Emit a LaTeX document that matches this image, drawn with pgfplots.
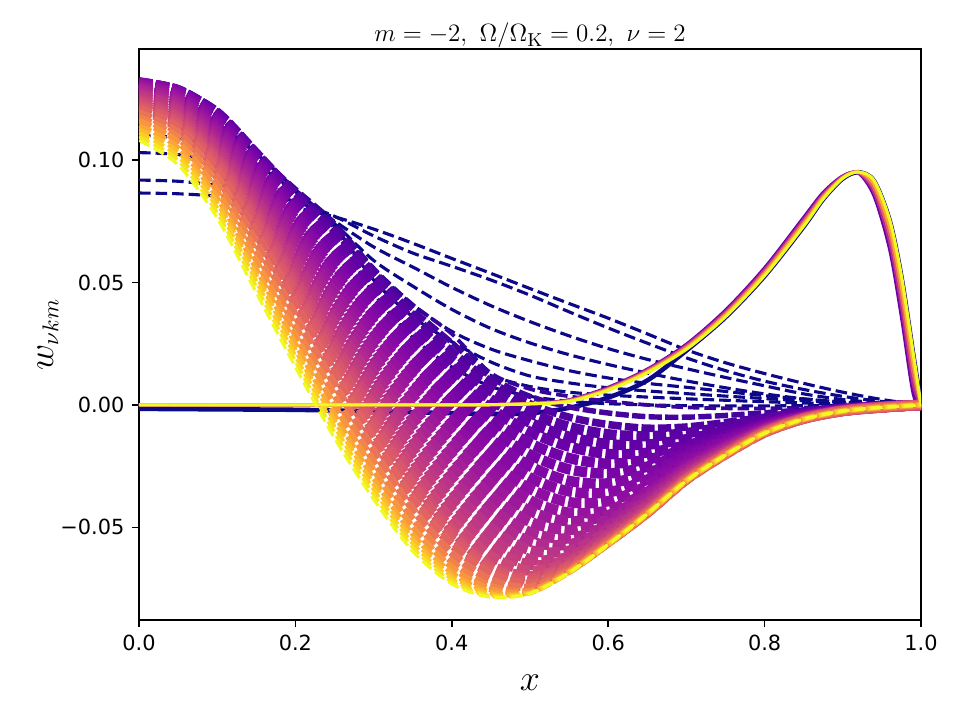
\documentclass[border=0pt]{standalone}
\usepackage[no-math]{fontspec}
\setmainfont{DejaVu Sans}
\usepackage{pgfplots}
\pgfplotsset{compat=1.18}
\definecolor{p0}{RGB}{13,8,135}
\definecolor{p1}{RGB}{65,4,157}
\definecolor{p2}{RGB}{106,0,168}
\definecolor{p3}{RGB}{143,13,164}
\definecolor{p4}{RGB}{177,42,144}
\definecolor{p5}{RGB}{204,71,120}
\definecolor{p6}{RGB}{225,100,98}
\definecolor{p7}{RGB}{242,132,75}
\definecolor{p8}{RGB}{252,166,54}
\definecolor{p9}{RGB}{252,206,37}
\definecolor{p10}{RGB}{240,249,33}
\pgfplotsset{
  dd/.style={smooth, dash pattern=on 5.55pt off 2.4pt, line width=#1},
  dm/.style={smooth, dash pattern=on 6.35pt off 1.6pt, line width=#1},
  ss/.style={smooth, line width=#1},
}
\begin{document}
\begin{tikzpicture}
\begin{axis}[
  scale only axis, width=375.4pt, height=274.1pt,
  xmin=0, xmax=1, ymin=-0.0878, ymax=0.1453,
  xtick={0,0.2,0.4,0.6,0.8,1}, xticklabels={0.0,0.2,0.4,0.6,0.8,1.0},
  ytick={-0.05,0,0.05,0.1}, yticklabels={−0.05,0.00,0.05,0.10},
  tick pos=left, tick align=outside, major tick length=3.5pt,
  every tick/.style={black, line width=0.8pt},
  axis line style={line width=0.8pt},
  ticklabel style={font=\fontsize{10}{12}\selectfont},
  title={$m=-2,\ \Omega/\Omega_{\mathrm{K}}=0.2,\ \nu=2$},
  title style={font=\fontsize{12.5}{15}\selectfont, at={(axis description cs:0.5,1.0123)}, anchor=base, yshift=-6pt},
  xlabel={$x$}, ylabel={$w_{\nu km}$},
  label style={font=\fontsize{16}{19}\selectfont},
  xlabel style={at={(axis description cs:0.5,-0.110)}, anchor=center},
  ylabel style={at={(axis description cs:-0.1164,0.5)}, anchor=center},
]
% fan curves (dark blue, dashed)
\addplot[dd=1.5pt, color=p0] coordinates {(0,.0865)(.05,.0862)(.1,.0852)(.15,.0833)(.2,.0805)(.25,.0768)(.3,.0718)(.35,.0660)(.4,.0598)(.45,.0537)(.5,.0475)(.55,.0414)(.6,.0354)(.65,.0290)(.7,.0225)(.75,.0172)(.8,.0128)(.85,.0088)(.9,.0052)(.95,.0022)(1,0)};
\addplot[dd=1.5pt, color=p0] coordinates {(0,.0918)(.05,.0913)(.1,.0897)(.15,.0870)(.2,.0830)(.25,.0770)(.3,.0690)(.35,.0620)(.4,.0566)(.45,.0510)(.5,.0448)(.55,.0380)(.6,.0314)(.65,.0252)(.7,.0192)(.75,.0140)(.8,.0097)(.85,.0063)(.9,.0035)(.95,.0014)(1,0)};
\addplot[dd=1.5pt, color=p0] coordinates {(0,.1030)(.05,.1022)(.1,.0990)(.15,.0935)(.2,.0855)(.25,.0750)(.3,.0645)(.35,.0563)(.4,.0480)(.45,.0405)(.5,.0340)(.55,.0282)(.6,.0230)(.65,.0186)(.7,.0148)(.75,.0112)(.8,.0078)(.85,.0045)(.9,.0022)(.95,.0008)(1,0)};
\addplot[dd=1.5pt, color=p0] coordinates {(0,.1100)(.05,.1090)(.1,.1050)(.15,.0980)(.2,.0870)(.25,.0740)(.3,.0590)(.35,.0485)(.4,.0390)(.45,.0312)(.5,.0253)(.55,.0205)(.6,.0165)(.65,.0130)(.7,.0098)(.75,.0070)(.8,.0045)(.85,.0025)(.9,.0012)(.95,.0004)(1,0)};
\addplot[dd=1.5pt, color=p0] coordinates {(0,.1180)(.05,.1165)(.1,.1110)(.15,.1000)(.2,.0870)(.25,.0735)(.3,.0555)(.35,.0410)(.4,.0300)(.45,.0228)(.5,.0180)(.55,.0140)(.6,.0110)(.65,.0088)(.7,.0072)(.75,.0055)(.8,.0038)(.85,.0024)(.9,.0012)(.95,.0004)(1,0)};
\addplot[dd=1.5pt, color=p0] coordinates {(0,.1240)(.05,.1220)(.1,.1150)(.15,.1025)(.2,.0880)(.25,.0730)(.3,.0510)(.35,.0360)(.4,.0258)(.45,.0175)(.5,.0118)(.55,.0090)(.6,.0070)(.65,.0057)(.7,.0046)(.75,.0036)(.8,.0026)(.85,.0017)(.9,.0009)(.95,.0003)(1,0)};
\addplot[dd=1.5pt, color=p0] coordinates {(0,.1280)(.05,.1260)(.1,.1180)(.15,.1030)(.2,.0880)(.25,.0720)(.3,.0480)(.35,.0315)(.4,.0200)(.45,.0120)(.5,.0075)(.55,.0052)(.6,.0040)(.65,.0032)(.7,.0025)(.75,.0019)(.8,.0013)(.85,.0008)(.9,.0004)(.95,.0001)(1,0)};
\addplot[dd=1.5pt, color=p0] coordinates {(0,.1300)(.05,.1280)(.1,.1190)(.15,.1030)(.2,.0880)(.25,.0710)(.3,.0455)(.35,.0275)(.4,.0155)(.45,.0075)(.5,.0035)(.55,.0015)(.6,.0005)(.65,.0000)(.7,-.0003)(.75,-.0004)(.8,-.0004)(.85,-.0003)(.9,-.0002)(.95,-.0001)(1,0)};
% solid, s=0
\addplot[ss=2.2pt, color=p0] coordinates {(0,-.0016)(.1,-.0018)(.2,-.0020)(.3,-.0026)(.4,-.0034)(.45,-.0037)(.5,-.0034)(.55,-.0012)(.6,.0030)(.65,.0100)(.7,.0222)(.75,.0358)(.8,.0526)(.85,.0728)(.875,.0840)(.9,.0924)(.92,.0950)(.94,.0914)(.96,.0752)(.975,.0522)(.99,.0208)(1,0)};
% dense dashed family
\addplot[dd=1.8pt, color={p1!80!p0}] coordinates {(0,.1280)(.05,.1265)(.1,.1190)(.15,.1030)(.2,.0885)(.25,.0745)(.3,.0560)(.35,.0410)(.4,.0290)(.45,.0130)(.5,.0065)(.55,.0035)(.6,.0015)(.65,.0000)(.7,-.0010)(.75,-.0014)(.8,-.0014)(.85,-.0011)(.9,-.0007)(.95,-.0003)(1,0)};
\addplot[dm=2.6pt, color={p1!90!p2}] coordinates {(0,.1295)(.05,.1278)(.1,.1193)(.15,.1030)(.2,.0875)(.25,.0728)(.3,.0550)(.35,.0390)(.4,.0255)(.45,.0113)(.5,.0035)(.55,-.0008)(.6,-.0033)(.65,-.0048)(.7,-.0050)(.75,-.0043)(.8,-.0032)(.85,-.0020)(.9,-.0011)(.95,-.0004)(1,0)};
\addplot[dm=3.6pt, color={p1!60!p2}] coordinates {(0,.1310)(.05,.1290)(.1,.1195)(.15,.1030)(.2,.0865)(.25,.0710)(.3,.0540)(.35,.0370)(.4,.0220)(.45,.0095)(.5,.0005)(.55,-.0050)(.6,-.0080)(.65,-.0095)(.7,-.0090)(.75,-.0072)(.8,-.0050)(.85,-.0029)(.9,-.0014)(.95,-.0005)(1,0)};
\addplot[dm=5pt, color={p1!40!p2}] coordinates {(0,.1299)(.05,.1278)(.1,.1192)(.15,.1025)(.2,.0852)(.25,.0687)(.3,.0512)(.35,.0340)(.4,.0187)(.45,.0058)(.5,-.0033)(.55,-.0090)(.6,-.0120)(.65,-.0128)(.7,-.0115)(.75,-.0089)(.8,-.0058)(.85,-.0033)(.9,-.0015)(.95,-.0006)(1,0)};
\addplot[dm=5pt, color={p1!20!p2}] coordinates {(0,.1305)(.05,.1282)(.1,.1188)(.15,.1020)(.2,.0838)(.25,.0663)(.3,.0483)(.35,.0310)(.4,.0153)(.45,.0022)(.5,-.0072)(.55,-.0130)(.6,-.0160)(.65,-.0162)(.7,-.0140)(.75,-.0105)(.8,-.0067)(.85,-.0036)(.9,-.0017)(.95,-.0006)(1,0)};
\addplot[dm=5pt, color=p2] coordinates {(0,.1312)(.05,.1285)(.1,.1185)(.15,.1015)(.2,.0825)(.25,.0640)(.3,.0455)(.35,.0280)(.4,.0120)(.45,-.0015)(.5,-.0110)(.55,-.0170)(.6,-.0200)(.65,-.0195)(.7,-.0165)(.75,-.0122)(.8,-.0075)(.85,-.0040)(.9,-.0018)(.95,-.0007)(1,0)};
\addplot[ss=1.5pt, color=p2] coordinates {(0,0)(.1,0)(.2,0)(.3,0)(.4,0)(.45,.0001)(.5,.0005)(.55,.0021)(.6,.0072)(.65,.0146)(.7,.0248)(.75,.0387)(.8,.0560)(.85,.0766)(.875,.0868)(.9,.0935)(.92,.0946)(.94,.0852)(.96,.0633)(.975,.0358)(.99,.0045)(1,0)};
\addplot[dm=5pt, color={p2!80!p3}] coordinates {(0,.1314)(.05,.1283)(.1,.1177)(.15,.1003)(.2,.0808)(.25,.0617)(.3,.0427)(.35,.0248)(.4,.0083)(.45,-.0057)(.5,-.0157)(.55,-.0217)(.6,-.0240)(.65,-.0223)(.7,-.0180)(.75,-.0130)(.8,-.0078)(.85,-.0041)(.9,-.0019)(.95,-.0007)(1,0)};
\addplot[dm=5pt, color={p2!60!p3}] coordinates {(0,.1315)(.05,.1282)(.1,.1168)(.15,.0992)(.2,.0792)(.25,.0593)(.3,.0398)(.35,.0217)(.4,.0047)(.45,-.0098)(.5,-.0203)(.55,-.0263)(.6,-.0280)(.65,-.0252)(.7,-.0195)(.75,-.0137)(.8,-.0082)(.85,-.0043)(.9,-.0019)(.95,-.0008)(1,0)};
\addplot[dm=5pt, color={p2!40!p3}] coordinates {(0,.1317)(.05,.1280)(.1,.1160)(.15,.0980)(.2,.0775)(.25,.0570)(.3,.0370)(.35,.0185)(.4,.0010)(.45,-.0140)(.5,-.0250)(.55,-.0310)(.6,-.0320)(.65,-.0280)(.7,-.0210)(.75,-.0145)(.8,-.0085)(.85,-.0044)(.9,-.0020)(.95,-.0008)(1,0)};
\addplot[dm=5pt, color={p2!20!p3}] coordinates {(0,.1314)(.05,.1273)(.1,.1148)(.15,.0965)(.2,.0755)(.25,.0543)(.3,.0337)(.35,.0148)(.4,-.0030)(.45,-.0185)(.5,-.0297)(.55,-.0353)(.6,-.0357)(.65,-.0305)(.7,-.0223)(.75,-.0152)(.8,-.0089)(.85,-.0046)(.9,-.0021)(.95,-.0008)(1,0)};
\addplot[dm=5pt, color=p3] coordinates {(0,.1310)(.05,.1267)(.1,.1137)(.15,.0950)(.2,.0735)(.25,.0517)(.3,.0303)(.35,.0112)(.4,-.0070)(.45,-.0230)(.5,-.0343)(.55,-.0397)(.6,-.0393)(.65,-.0330)(.7,-.0237)(.75,-.0160)(.8,-.0092)(.85,-.0047)(.9,-.0021)(.95,-.0009)(1,0)};
\addplot[dm=5pt, color={p3!80!p4}] coordinates {(0,.1307)(.05,.1260)(.1,.1125)(.15,.0935)(.2,.0715)(.25,.0490)(.3,.0270)(.35,.0075)(.4,-.0110)(.45,-.0275)(.5,-.0390)(.55,-.0440)(.6,-.0430)(.65,-.0355)(.7,-.0250)(.75,-.0167)(.8,-.0096)(.85,-.0049)(.9,-.0022)(.95,-.0009)(1,0)};
\addplot[dm=5pt, color={p3!60!p4}] coordinates {(0,.1300)(.05,.1250)(.1,.1110)(.15,.0915)(.2,.0690)(.25,.0458)(.3,.0233)(.35,.0032)(.4,-.0158)(.45,-.0323)(.5,-.0433)(.55,-.0475)(.6,-.0450)(.65,-.0367)(.7,-.0257)(.75,-.0171)(.8,-.0098)(.85,-.0050)(.9,-.0022)(.95,-.0009)(1,0)};
\addplot[dm=5pt, color={p3!40!p4}] coordinates {(0,.1294)(.05,.1240)(.1,.1095)(.15,.0895)(.2,.0665)(.25,.0427)(.3,.0197)(.35,-.0012)(.4,-.0207)(.45,-.0372)(.5,-.0477)(.55,-.0510)(.6,-.0470)(.65,-.0378)(.7,-.0263)(.75,-.0176)(.8,-.0100)(.85,-.0051)(.9,-.0023)(.95,-.0009)(1,0)};
\addplot[dm=5pt, color={p3!20!p4}] coordinates {(0,.1287)(.05,.1230)(.1,.1080)(.15,.0875)(.2,.0640)(.25,.0395)(.3,.0160)(.35,-.0055)(.4,-.0255)(.45,-.0420)(.5,-.0520)(.55,-.0545)(.6,-.0490)(.65,-.0390)(.7,-.0270)(.75,-.0180)(.8,-.0102)(.85,-.0052)(.9,-.0023)(.95,-.0009)(1,0)};
\addplot[dm=5pt, color=p4] coordinates {(0,.1279)(.05,.1218)(.1,.1065)(.15,.0855)(.2,.0613)(.25,.0363)(.3,.0127)(.35,-.0097)(.4,-.0300)(.45,-.0462)(.5,-.0557)(.55,-.0570)(.6,-.0503)(.65,-.0400)(.7,-.0277)(.75,-.0184)(.8,-.0104)(.85,-.0053)(.9,-.0023)(.95,-.0009)(1,0)};
\addplot[ss=1.5pt, color=p4] coordinates {(0,0)(.1,0)(.2,0)(.3,0)(.4,0)(.45,.0001)(.5,.0005)(.55,.0020)(.6,.0069)(.65,.0143)(.7,.0243)(.75,.0380)(.8,.0552)(.85,.0757)(.875,.0861)(.9,.0933)(.92,.0948)(.94,.0868)(.96,.0663)(.975,.0400)(.99,.0085)(1,0)};
\addplot[dm=5pt, color={p4!70!p5}] coordinates {(0,.1270)(.05,.1207)(.1,.1050)(.15,.0835)(.2,.0587)(.25,.0332)(.3,.0093)(.35,-.0138)(.4,-.0345)(.45,-.0503)(.5,-.0593)(.55,-.0595)(.6,-.0517)(.65,-.0410)(.7,-.0283)(.75,-.0189)(.8,-.0106)(.85,-.0054)(.9,-.0024)(.95,-.0010)(1,0)};
\addplot[dm=5pt, color={p4!50!p5}] coordinates {(0,.1262)(.05,.1195)(.1,.1035)(.15,.0815)(.2,.0560)(.25,.0300)(.3,.0060)(.35,-.0180)(.4,-.0390)(.45,-.0545)(.5,-.0630)(.55,-.0620)(.6,-.0530)(.65,-.0420)(.7,-.0290)(.75,-.0193)(.8,-.0108)(.85,-.0055)(.9,-.0024)(.95,-.0010)(1,0)};
\addplot[dm=5pt, color={p4!30!p5}] coordinates {(0,.1252)(.05,.1183)(.1,.1022)(.15,.0797)(.2,.0537)(.25,.0273)(.3,.0027)(.35,-.0220)(.4,-.0430)(.45,-.0582)(.5,-.0653)(.55,-.0632)(.6,-.0538)(.65,-.0426)(.7,-.0294)(.75,-.0195)(.8,-.0109)(.85,-.0055)(.9,-.0024)(.95,-.0010)(1,0)};
\addplot[dm=5pt, color=p5] coordinates {(0,.1242)(.05,.1172)(.1,.1008)(.15,.0778)(.2,.0513)(.25,.0247)(.3,-.0007)(.35,-.0260)(.4,-.0470)(.45,-.0618)(.5,-.0677)(.55,-.0643)(.6,-.0547)(.65,-.0432)(.7,-.0299)(.75,-.0198)(.8,-.0111)(.85,-.0056)(.9,-.0025)(.95,-.0010)(1,0)};
\addplot[dm=5pt, color={p5!80!p6}] coordinates {(0,.1232)(.05,.1160)(.1,.0995)(.15,.0760)(.2,.0490)(.25,.0220)(.3,-.0040)(.35,-.0300)(.4,-.0510)(.45,-.0655)(.5,-.0700)(.55,-.0655)(.6,-.0555)(.65,-.0438)(.7,-.0303)(.75,-.0200)(.8,-.0112)(.85,-.0056)(.9,-.0025)(.95,-.0010)(1,0)};
\addplot[dm=5pt, color={p5!50!p6}] coordinates {(0,.1222)(.05,.1148)(.1,.0982)(.15,.0740)(.2,.0463)(.25,.0190)(.3,-.0073)(.35,-.0328)(.4,-.0530)(.45,-.0667)(.5,-.0710)(.55,-.0661)(.6,-.0558)(.65,-.0439)(.7,-.0304)(.75,-.0201)(.8,-.0112)(.85,-.0056)(.9,-.0025)(.95,-.0010)(1,0)};
\addplot[dm=4.6pt, color={p5!30!p6}] coordinates {(0,.1215)(.05,.1140)(.1,.0968)(.15,.0720)(.2,.0437)(.25,.0160)(.3,-.0107)(.35,-.0357)(.4,-.0550)(.45,-.0678)(.5,-.0720)(.55,-.0666)(.6,-.0560)(.65,-.0441)(.7,-.0305)(.75,-.0202)(.8,-.0113)(.85,-.0057)(.9,-.0025)(.95,-.0010)(1,0)};
\addplot[dm=4.2pt, color=p6] coordinates {(0,.1208)(.05,.1130)(.1,.0955)(.15,.0700)(.2,.0410)(.25,.0130)(.3,-.0140)(.35,-.0385)(.4,-.0570)(.45,-.0690)(.5,-.0730)(.55,-.0672)(.6,-.0563)(.65,-.0442)(.7,-.0306)(.75,-.0203)(.8,-.0113)(.85,-.0057)(.9,-.0025)(.95,-.0010)(1,0)};
\addplot[ss=1.5pt, color=p6] coordinates {(0,0)(.1,0)(.2,0)(.3,0)(.4,0)(.45,.0001)(.5,.0005)(.55,.0018)(.6,.0066)(.65,.0139)(.7,.0238)(.75,.0373)(.8,.0544)(.85,.0748)(.875,.0854)(.9,.0930)(.92,.0950)(.94,.0884)(.96,.0694)(.975,.0442)(.99,.0128)(1,0)};
\addplot[dm=3.6pt, color={p6!50!p7}] coordinates {(0,.1192)(.05,.1111)(.1,.0928)(.15,.0663)(.2,.0365)(.25,.0085)(.3,-.0185)(.35,-.0425)(.4,-.0605)(.45,-.0715)(.5,-.0744)(.55,-.0676)(.6,-.0565)(.65,-.0443)(.7,-.0307)(.75,-.0204)(.8,-.0114)(.85,-.0057)(.9,-.0025)(.95,-.0010)(1,0)};
\addplot[dm=3.2pt, color=p7] coordinates {(0,.1174)(.05,.1090)(.1,.0900)(.15,.0625)(.2,.0320)(.25,.0040)(.3,-.0230)(.35,-.0465)(.4,-.0640)(.45,-.0740)(.5,-.0758)(.55,-.0680)(.6,-.0567)(.65,-.0444)(.7,-.0308)(.75,-.0204)(.8,-.0114)(.85,-.0057)(.9,-.0025)(.95,-.0010)(1,0)};
\addplot[dm=2.8pt, color={p7!50!p8}] coordinates {(0,.1160)(.05,.1073)(.1,.0873)(.15,.0590)(.2,.0285)(.25,.0000)(.3,-.0265)(.35,-.0497)(.4,-.0663)(.45,-.0753)(.5,-.0762)(.55,-.0682)(.6,-.0568)(.65,-.0445)(.7,-.0309)(.75,-.0204)(.8,-.0114)(.85,-.0058)(.9,-.0025)(.95,-.0010)(1,0)};
\addplot[dm=2.4pt, color=p8] coordinates {(0,.1140)(.05,.1050)(.1,.0845)(.15,.0555)(.2,.0250)(.25,-.0040)(.3,-.0300)(.35,-.0528)(.4,-.0685)(.45,-.0765)(.5,-.0766)(.55,-.0683)(.6,-.0569)(.65,-.0445)(.7,-.0309)(.75,-.0204)(.8,-.0114)(.85,-.0058)(.9,-.0025)(.95,-.0010)(1,0)};
\addplot[ss=1.5pt, color=p8] coordinates {(0,0)(.1,0)(.2,0)(.3,0)(.4,0)(.45,.0001)(.5,.0005)(.55,.0016)(.6,.0063)(.65,.0135)(.7,.0232)(.75,.0367)(.8,.0536)(.85,.0739)(.875,.0848)(.9,.0928)(.92,.0951)(.94,.0900)(.96,.0724)(.975,.0484)(.99,.0170)(1,0)};
\addplot[dd=2.1pt, color={p8!50!p9}] coordinates {(0,.1125)(.05,.1033)(.1,.0825)(.15,.0530)(.2,.0225)(.25,-.0064)(.3,-.0323)(.35,-.0547)(.4,-.0698)(.45,-.0772)(.5,-.0767)(.55,-.0684)(.6,-.0570)(.65,-.0445)(.7,-.0310)(.75,-.0205)(.8,-.0115)(.85,-.0058)(.9,-.0025)(.95,-.0010)(1,0)};
\addplot[dd=1.9pt, color=p9] coordinates {(0,.1110)(.05,.1015)(.1,.0805)(.15,.0505)(.2,.0200)(.25,-.0088)(.3,-.0345)(.35,-.0565)(.4,-.0710)(.45,-.0778)(.5,-.0768)(.55,-.0684)(.6,-.0570)(.65,-.0445)(.7,-.0310)(.75,-.0205)(.8,-.0115)(.85,-.0058)(.9,-.0025)(.95,-.0010)(1,0)};
\addplot[dd=1.7pt, color={p9!50!p10}] coordinates {(0,.1095)(.05,.0998)(.1,.0784)(.15,.0482)(.2,.0178)(.25,-.0112)(.3,-.0365)(.35,-.0581)(.4,-.0721)(.45,-.0782)(.5,-.0769)(.55,-.0685)(.6,-.0570)(.65,-.0445)(.7,-.0310)(.75,-.0205)(.8,-.0115)(.85,-.0058)(.9,-.0025)(.95,-.0010)(1,0)};
\addplot[dd=1.5pt, color=p10] coordinates {(0,.1080)(.05,.0980)(.1,.0763)(.15,.0458)(.2,.0155)(.25,-.0135)(.3,-.0385)(.35,-.0597)(.4,-.0731)(.45,-.0785)(.5,-.0770)(.55,-.0685)(.6,-.0570)(.65,-.0445)(.7,-.0310)(.75,-.0205)(.8,-.0115)(.85,-.0058)(.9,-.0025)(.95,-.0010)(1,0)};
\addplot[ss=1.5pt, color=p10] coordinates {(0,0)(.1,0)(.2,0)(.3,0)(.4,0)(.45,.0001)(.5,.0004)(.55,.0014)(.6,.0060)(.65,.0131)(.7,.0227)(.75,.0360)(.8,.0528)(.85,.0730)(.875,.0841)(.9,.0925)(.92,.0951)(.94,.0916)(.96,.0755)(.975,.0526)(.99,.0212)(1,0)};
\end{axis}
\useasboundingbox ([xshift=-66.72pt,yshift=-48pt]current axis.south west) rectangle ([xshift=18.72pt,yshift=23.52pt]current axis.north east);
\end{tikzpicture}
\end{document}
